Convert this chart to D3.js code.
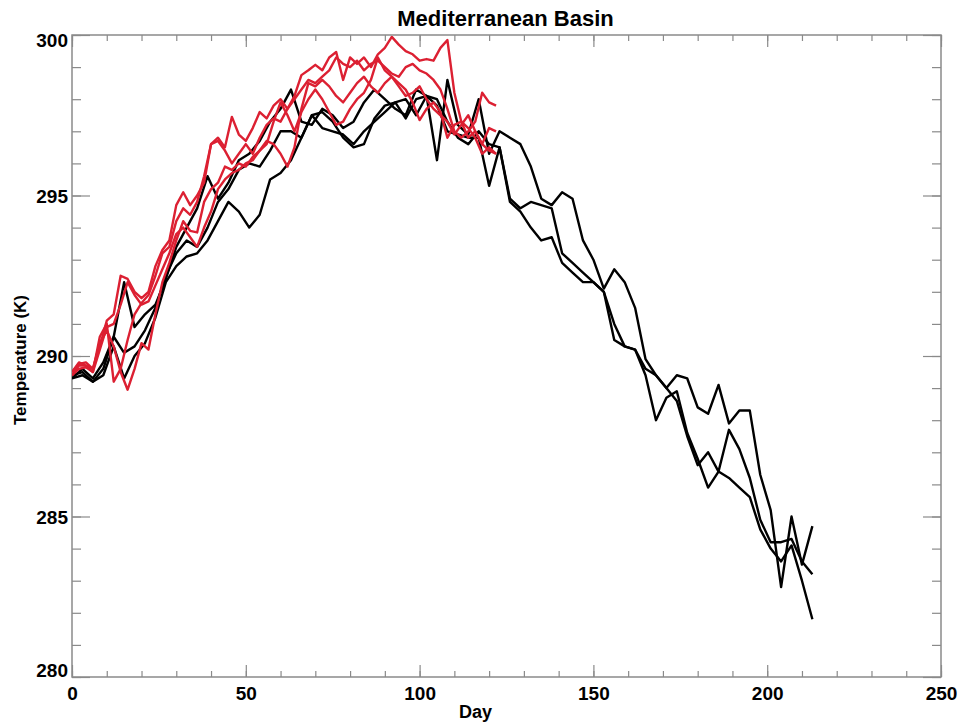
<!DOCTYPE html>
<html>
<head>
<meta charset="utf-8">
<script src="https://cdn.jsdelivr.net/npm/d3@7"></script>
<style>
  body { margin: 0; background: #fff; }
  svg text { font-family: "Liberation Sans", Arial, sans-serif; font-weight: bold; }
</style>
</head>
<body>
<div id="chart"></div>
<script>
/* ################ chart values ################ */
// black runs, sampled every 3 days (day 0 .. 213)
var blackDays = d3.range(0, 214, 3);
var black1 = [289.3,289.6,289.3,289.8,290.6,292.3,290.9,291.3,291.6,292.4,
  293.4,294.0,294.6,295.6,294.9,295.4,296.1,296.3,296.7,297.3,
  297.7,298.3,297.3,297.2,297.7,297.5,297.1,297.3,297.9,298.3,
  298.0,297.7,297.5,298.3,298.1,296.1,298.6,297.2,296.9,298.0,
  296.3,297.0,296.8,296.6,295.9,294.9,294.7,295.1,294.9,293.6,
  293.0,292.1,292.7,292.3,291.5,289.9,289.4,289.0,289.4,289.3,
  288.4,288.2,289.1,287.9,288.3,288.3,286.3,285.2,282.8,285.0,
  283.5,284.7];
var black2 = [289.4,289.5,289.2,289.6,290.6,290.1,290.3,290.8,291.5,292.5,
  293.2,293.6,293.4,294.0,294.8,295.2,295.8,296.0,295.9,296.4,
  297.0,297.0,296.8,297.5,297.1,297.0,296.9,296.6,297.0,297.3,
  297.6,297.9,297.4,298.0,298.1,297.8,297.0,296.9,296.8,296.8,
  295.3,296.5,294.9,294.6,294.8,294.7,294.6,293.2,292.9,292.6,
  292.3,292.0,291.0,290.3,290.2,289.6,289.4,289.0,288.6,287.5,
  286.6,287.0,286.4,287.7,287.1,286.2,284.9,284.2,284.2,284.3,
  283.6,283.2];
var black3 = [289.3,289.4,289.2,289.4,290.3,289.3,290.0,290.4,291.2,292.3,
  292.8,293.1,293.2,293.6,294.2,294.8,294.5,294.0,294.4,295.5,
  295.7,296.1,296.8,297.5,297.6,297.3,296.8,296.5,296.6,297.4,
  297.8,297.9,298.0,297.5,298.1,298.0,297.3,296.8,296.6,297.0,
  296.6,296.5,294.8,294.5,294.0,293.6,293.7,292.9,292.6,292.3,
  292.3,292.0,290.5,290.3,290.2,289.4,288.0,288.7,288.9,287.6,
  286.8,285.9,286.4,286.2,285.9,285.6,284.6,284.0,283.6,284.1,
  283.0,281.8];

// red runs, sampled every 2 days (day 0 .. 122)
var redDays = d3.range(0, 123, 2);
var red1 = [289.5,289.75,289.8,289.6,290.3, 291.1,291.3,292.5,292.4,292.0,
  291.8,292.0,292.8,293.3,293.6, 294.7,295.1,294.7,295.0,295.4,
  296.6,296.8,296.5,297.45,296.9, 296.7,297.1,297.6,297.4,297.8,
  298.0,297.7,298.1,298.75,298.9, 299.07,298.9,299.3,299.47,298.6,
  299.3,299.1,299.3,299.0,299.4, 299.6,299.94,299.7,299.5,299.4,
  299.2,299.25,299.2,299.6,299.84, 298.2,297.3,296.8,297.0,296.6,
  296.4,296.3];
var red2 = [289.4,289.7,289.7,289.5,290.6, 291.0,289.2,289.6,290.5,291.3,
  291.65,291.9,292.5,293.2,293.4, 294.2,294.6,294.4,294.8,295.6,
  296.6,296.7,296.4,296.0,296.3, 296.6,296.3,296.8,297.2,297.4,
  297.3,297.7,298.0,298.3,298.6, 298.5,298.7,298.9,299.3,299.1,
  299.0,299.2,298.9,299.1,299.2, 299.0,298.8,298.7,299.0,299.1,
  298.9,298.8,298.6,298.3,297.7, 297.0,296.8,297.0,297.3,298.2,
  297.9,297.8];
var red3 = [289.5,289.8,289.7,289.6,290.4, 290.8,290.3,289.5,288.95,289.6,
  290.4,290.2,291.3,292.3,292.9, 293.6,294.2,293.9,293.85,294.8,
  295.2,295.4,295.9,295.8,296.0, 295.9,296.2,296.4,296.6,297.3,
  297.9,297.5,297.0,297.6,298.0, 298.3,298.0,297.6,297.2,297.3,
  297.7,298.0,298.2,298.6,299.3, 298.9,298.7,298.5,298.3,297.9,
  297.35,297.7,297.9,297.6,296.8, 297.2,297.3,297.1,296.8,296.3,
  296.5,296.3];
var red4 = [289.4,289.6,289.65,289.5,290.2, 290.9,291.0,291.6,292.3,291.9,
  291.6,291.7,292.2,292.7,293.2, 293.8,294.0,293.7,293.4,294.0,
  294.5,295.2,295.5,295.7,295.8, 296.0,296.1,296.4,296.7,296.6,
  296.3,295.9,296.5,297.7,298.5, 298.4,298.6,298.4,298.1,297.9,
  298.2,298.5,298.7,298.4,298.2, 298.5,298.7,298.4,298.1,298.2,
  298.4,298.0,297.7,297.5,297.3, 296.9,297.2,297.5,297.0,296.6,
  297.1,297.0];

var blackSeries = [black1, black2, black3];
var redSeries = [red1, red2, red3, red4];

var xMajor = [0, 50, 100, 150, 200, 250];
var yMajor = [280, 285, 290, 295, 300];

/* ################ layout ################ */
var W = 959, H = 722;
var plot = { left: 72, right: 941, top: 35, bottom: 677 };
var axisColor = "#8a8a8a";
var redColor = "#dc2032";

var svg = d3.select("#chart").append("svg")
  .attr("width", W).attr("height", H);

var x = d3.scaleLinear().domain([0, 250]).range([plot.left, plot.right]);
var y = d3.scaleLinear().domain([280, 300]).range([plot.bottom, plot.top]);

// ticks, all pointing inward
function tickAxis(axis, transform, size, values) {
  var g = svg.append("g")
    .attr("transform", transform)
    .call(axis.tickValues(values).tickSize(size).tickFormat(""));
  g.select(".domain").remove();
  g.selectAll("line").attr("stroke", axisColor).attr("stroke-width", 1.2);
  return g;
}
var xMinor = d3.range(0, 251, 10);
var yMinor = d3.range(280, 301, 1);
tickAxis(d3.axisBottom(x), "translate(0," + plot.bottom + ")", -6, xMinor);
tickAxis(d3.axisBottom(x), "translate(0," + plot.bottom + ")", -12, xMajor);
tickAxis(d3.axisTop(x), "translate(0," + plot.top + ")", -6, xMinor);
tickAxis(d3.axisTop(x), "translate(0," + plot.top + ")", -12, xMajor);
tickAxis(d3.axisLeft(y), "translate(" + plot.left + ",0)", -9, yMinor);
tickAxis(d3.axisLeft(y), "translate(" + plot.left + ",0)", -18, yMajor);
tickAxis(d3.axisRight(y), "translate(" + plot.right + ",0)", -9, yMinor);
tickAxis(d3.axisRight(y), "translate(" + plot.right + ",0)", -18, yMajor);

// frame
svg.append("rect")
  .attr("x", plot.left).attr("y", plot.top)
  .attr("width", plot.right - plot.left).attr("height", plot.bottom - plot.top)
  .attr("fill", "none").attr("stroke", axisColor).attr("stroke-width", 1.5);

// tick labels
var xLab = svg.append("g")
  .attr("transform", "translate(0," + plot.bottom + ")")
  .call(d3.axisBottom(x).tickValues(xMajor).tickSize(0).tickPadding(6).tickFormat(d3.format("d")));
xLab.select(".domain").remove();
xLab.selectAll("text")
  .attr("fill", "#000").attr("font-size", 19).attr("font-family", null).attr("dy", "0.9em");

var yLab = svg.append("g")
  .attr("transform", "translate(" + plot.left + ",0)")
  .call(d3.axisLeft(y).tickValues(yMajor).tickSize(0).tickPadding(4).tickFormat(d3.format("d")));
yLab.select(".domain").remove();
yLab.selectAll("text")
  .attr("fill", "#000").attr("font-size", 19).attr("font-family", null)
  .attr("dy", function(d) { return d == 300 ? "0.62em" : d == 280 ? "-0.05em" : "0.35em"; });

// lines
var line = d3.line()
  .x(function(d) { return x(d[0]); })
  .y(function(d) { return y(d[1]); });

svg.append("clipPath").attr("id", "clip").append("rect")
  .attr("x", plot.left).attr("y", plot.top)
  .attr("width", plot.right - plot.left).attr("height", plot.bottom - plot.top);

var lines = svg.append("g").attr("clip-path", "url(#clip)");

blackSeries.forEach(function(s) {
  lines.append("path")
    .datum(s.map(function(v, i) { return [blackDays[i], v]; }))
    .attr("d", line)
    .attr("fill", "none").attr("stroke", "#000").attr("stroke-width", 2.4)
    .attr("stroke-linejoin", "round");
});
redSeries.forEach(function(s) {
  lines.append("path")
    .datum(s.map(function(v, i) { return [redDays[i], v]; }))
    .attr("d", line)
    .attr("fill", "none").attr("stroke", redColor).attr("stroke-width", 2.4)
    .attr("stroke-linejoin", "round");
});

// titles
svg.append("text")
  .attr("x", (plot.left + plot.right) / 2 - 1).attr("y", 26)
  .attr("text-anchor", "middle").attr("font-size", 22)
  .text("Mediterranean Basin");

svg.append("text")
  .attr("x", (plot.left + plot.right) / 2 - 31).attr("y", 718)
  .attr("text-anchor", "middle").attr("font-size", 18)
  .text("Day");

svg.append("text")
  .attr("transform", "translate(26," + 360 + ") rotate(-90)")
  .attr("text-anchor", "middle").attr("font-size", 17)
  .text("Temperature (K)");
</script>
</body>
</html>
